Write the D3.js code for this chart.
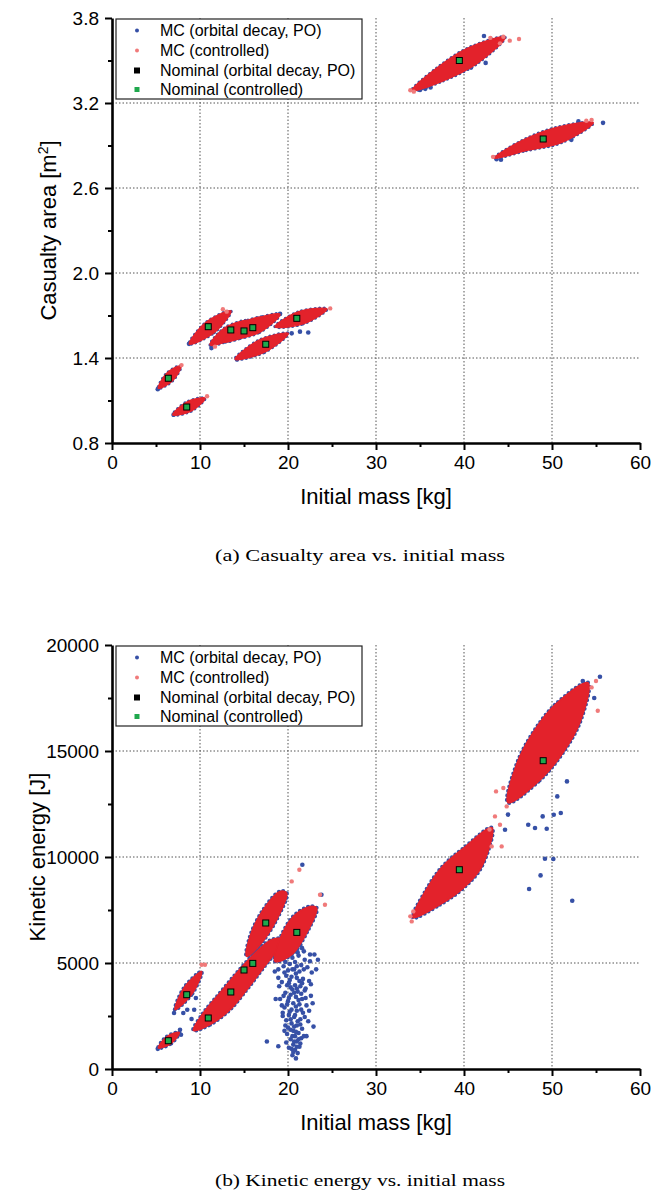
<!DOCTYPE html>
<html><head><meta charset="utf-8">
<script src="https://cdn.jsdelivr.net/npm/d3@7"></script>
<style>
html,body{margin:0;padding:0;background:#fff;}
svg{display:block;}
</style></head>
<body>
<svg id="chart" width="651" height="1194"></svg>
<script>
// ---------- data ----------
const massTicks = [0,10,20,30,40,50,60];
const massMinor = [5,15,25,35,45,55];
const areaTicks = [0.8,1.4,2.0,2.6,3.2,3.8];
const areaMinor = [1.1,1.7,2.3,2.9,3.5];
const energyTicks = [0,5000,10000,15000,20000];
const energyMinor = [2500,7500,12500,17500];
const legendLabels = ["MC (orbital decay, PO)","MC (controlled)","Nominal (orbital decay, PO)","Nominal (controlled)"];

const nominalMass   = [6.4, 8.49, 10.94, 13.5, 15.0, 16.0, 17.47, 21.0, 39.47, 49.0];
const nominalArea   = [1.257, 1.054, 1.621, 1.598, 1.591, 1.614, 1.497, 1.68, 3.50, 2.946];
const nominalEnergy = [1335, 3505, 2406, 3632, 4670, 4981, 6887, 6444, 9401, 14543];

// MC cloud outlines (mass, casualty area)
const areaCloudA = [[5.26,1.186],[6.875,1.239],[7.84,1.345],[6.225,1.292]];
const areaCloudB = [[6.9,0.998],[8.98,1.025],[10.57,1.116],[8.49,1.089]];
const areaCloudC = [[8.78,1.499],[11.62,1.580],[13.52,1.732],[10.68,1.651]];
const areaCloudD = [[11.14,1.492],[13.725,1.539],[15.49,1.663],[12.905,1.616]];
const areaCloudE = [[12.65,1.515],[15.31,1.562],[17.19,1.687],[14.53,1.640]];
const areaCloudF = [[13.78,1.539],[16.78,1.582],[19.09,1.709],[16.09,1.666]];
const areaCloudG = [[13.98,1.391],[17.34,1.441],[20.03,1.574],[16.67,1.524]];
const areaCloudH = [[18.52,1.621],[21.72,1.641],[24.43,1.746],[21.23,1.726]];
const areaCloudI = [[34.06,3.287],[37.64,3.357],[41.45,3.477],[44.66,3.664],[40.43,3.587],[36.84,3.443]];
const areaCloudJ = [[43.41,2.810],[47.07,2.864],[51.05,2.920],[54.69,3.061],[50.43,3.026],[46.52,2.932]];
const areaBlueOut = [[42.27,3.673],[42.46,3.483],[35.0,3.292],[35.6,3.30],[36.2,3.31],[55.8,3.06],[43.7,2.803],[44.2,2.80],[53.0,3.07],[8.75,1.50],[19.1,1.712],[20.42,1.574],[21.36,1.586],[22.3,1.58],[5.2,1.18],[14.2,1.39],[11.3,1.47],[7.0,1.0],[40.8,3.45],[52.2,2.94]];
const areaRedOut = [[46.25,3.652],[44.47,3.668],[44.09,3.621],[45.2,3.64],[33.9,3.29],[34.3,3.28],[53.9,3.075],[54.5,3.08],[43.3,2.82],[13.03,1.727],[12.6,1.745],[11.7,1.48],[24.8,1.75],[10.8,1.13],[7.9,1.35],[43.0,3.66]];

// MC cloud outlines (mass, kinetic energy)
const energyCloudA = [[5.26,991],[6.73,1208],[7.65,1727],[6.18,1509]];
const energyCloudB = [[7.16,2797],[9.14,3566],[10.19,4604],[8.2,3840]];
const energyCloudBand = [[9.24,1821],[11.14,2090],[13.41,2797],[15.31,3741],[17.19,4764],[18.9,5708],[19.28,6132],[18.15,6099],[16.06,5392],[14.17,4528],[12.27,3585],[10.38,2642]];
const energyCloudG = [[15.31,5311],[16.82,5863],[18.7,7043],[19.85,8302],[19.09,8378],[17.19,7514],[15.68,6255]];
const energyCloudH = [[18.52,5076],[20.42,5391],[22.31,6571],[23.26,7594],[22.5,7670],[20.6,7198],[18.9,5943]];
const energyCloudI = [[34.2,7137],[37.26,7750],[39.91,8528],[42.0,9538],[43.18,11382],[39.89,10396],[37.48,9519],[35.65,8411]];
const energyCloudJ = [[45.0,12560],[48.59,13609],[51.25,14920],[53.24,16415],[54.09,18220],[50.40,17198],[47.84,15863],[45.95,14344]];
const energyBlueOut = [
[20.1,5900],[20.6,6000],[21.4,5850],[19.6,5700],[20.3,5600],[21.0,5650],[21.8,5550],[22.5,5400],
[19.2,5400],[19.9,5300],[20.5,5250],[21.2,5350],[21.9,5150],[20.8,5050],[20.2,4950],[21.5,4900],
[22.2,4800],[19.5,4850],[18.9,4700],[20.0,4650],[20.7,4700],[21.3,4600],[22.7,4550],[19.8,4400],
[20.4,4350],[21.0,4300],[21.7,4250],[22.4,4150],[19.3,4100],[20.1,4050],[20.8,3950],[21.4,3900],
[20.5,3750],[21.1,3650],[21.9,3700],[19.7,3600],[20.3,3500],[22.6,3450],[20.9,3400],[21.6,3300],
[19.1,3300],[20.0,3200],[20.6,3100],[21.3,3050],[22.1,3000],[19.6,2900],[20.4,2800],[21.0,2750],
[21.7,2650],[20.1,2550],[20.7,2450],[21.4,2350],[19.8,2300],[22.3,2250],[20.4,2150],[21.0,2050],
[20.0,1950],[21.6,1900],[20.6,1800],[21.2,1700],[19.9,1650],[20.8,1550],[21.5,1450],[20.3,1400],
[21.0,1300],[20.6,1150],[21.3,1050],[20.1,1000],[20.8,900],[21.1,750],[20.5,650],[20.9,500],
[22.9,2000],[23.4,5150],[22.5,5080],[17.6,1300],[18.9,1070],[18.6,3300],[18.5,4600],[23.2,4700],
[19.4,2500],[22.0,3800],[22.8,3100],[19.0,3900],
[19.9,5800],[20.9,5950],[21.6,5700],[20.4,5450],[21.1,5500],[19.7,5050],[21.0,4850],[20.5,4700],
[21.8,4700],[19.6,4550],[20.9,4500],[20.2,4200],[21.3,4150],[19.9,3950],[21.6,4050],[20.3,3850],
[21.0,3800],[20.7,3600],[21.5,3550],[19.5,3450],[20.1,3350],[21.2,3250],[19.9,3050],[20.9,2950],
[21.5,2800],[20.2,2700],[19.4,2650],[20.8,2550],[21.9,2450],[20.3,2350],[21.1,2250],[19.7,2050],
[20.7,2000],[21.4,2100],[20.3,1850],[20.9,1750],[21.8,1550],[19.6,1800],[20.5,1550],[21.2,1400],
[20.7,1300],[19.8,1250],[20.4,950],[21.0,1050],[20.6,800],[21.4,1200],[22.1,1550],[22.4,2750],
[22.0,3350],[18.9,4300],[19.3,3000],[22.6,4000],[23.0,5400],[19.0,5600],
[8.1,2641],[9.04,2358],[8.55,2797],[7.73,1854],[7.84,1618],[9.34,2797],[9.53,3346],[7.05,2641],[5.2,950],
[47.4,8490],[52.3,7939],[48.7,9132],[49.2,9920],[50.15,9906],[48.94,11915],[50.2,11995],[51.0,12075],
[49.4,11335],[47.3,11524],[48.07,11368],[50.6,12859],[51.7,13566],[44.66,11288],[45.0,12000],
[55.45,18500],[54.8,17500],[53.5,18300],[21.63,9637],[23.8,8222],[34.3,7300]];
const energyRedOut = [[21.29,9401],[20.42,8849],[23.64,8222],[24.2,7750],[10.19,4920],[10.57,4920],
[43.64,13094],[44.47,13254],[43.52,11915],[44.85,12387],[44.09,11524],[43.14,10500],[44.28,10500],
[34.06,6963],[33.9,7200],[34.24,7434],[55.0,18300],[55.2,16900],[54.5,18000],[42.9,11300]];

// ---------- drawing ----------
const BLUE = "#3650a6", RED = "#e3222b", PINK = "#f07a7a", GREEN = "#1fa84d";
const SANS = "Liberation Sans, Arial, sans-serif";
const svg = d3.select("#chart");
svg.append("rect").attr("width",651).attr("height",1194).attr("fill","#fff");
const x = d3.scaleLinear().domain([0,60]).range([112,640]);

function drawPanel(cfg){
  const y = cfg.y;
  const g = svg.append("g");
  const [y0,y1] = y.range(); // bottom, top
  // grid
  g.selectAll(".hg").data(cfg.ticks.slice(1,-1)).join("line")
    .attr("x1",x(0)).attr("x2",x(60)).attr("y1",d=>y(d)).attr("y2",d=>y(d))
    .attr("stroke","#555").attr("stroke-width",1).attr("stroke-dasharray","1.5,2");
  g.selectAll(".vg").data(massTicks.slice(1,-1)).join("line")
    .attr("x1",d=>x(d)).attr("x2",d=>x(d)).attr("y1",y1).attr("y2",y0)
    .attr("stroke","#555").attr("stroke-width",1).attr("stroke-dasharray","1.5,2");
  // clouds
  const line = d3.line().x(d=>x(d[0])).y(d=>y(d[1])).curve(d3.curveCatmullRomClosed.alpha(0.5));
  cfg.clouds.forEach(c=>{
    g.append("path").attr("d",line(c)).attr("fill","none").attr("stroke",BLUE)
      .attr("stroke-width",cfg.rim).attr("stroke-dasharray","0 4.5").attr("stroke-linecap","round");
  });
  g.selectAll(".bo").data(cfg.blue).join("circle")
    .attr("cx",d=>x(d[0])).attr("cy",d=>y(d[1])).attr("r",2.3).attr("fill",BLUE);
  cfg.clouds.forEach(c=>{
    g.append("path").attr("d",line(c)).attr("fill",RED).attr("stroke",RED).attr("stroke-width",1.5);
  });
  g.selectAll(".ro").data(cfg.red).join("circle")
    .attr("cx",d=>x(d[0])).attr("cy",d=>y(d[1])).attr("r",2.2).attr("fill",PINK);
  // nominal
  g.selectAll(".nb").data(nominalMass).join("rect")
    .attr("x",(d)=>x(d)-3.5).attr("y",(d,i)=>y(cfg.nominal[i])-3.5).attr("width",7).attr("height",7).attr("fill","#000");
  g.selectAll(".ng").data(nominalMass).join("rect")
    .attr("x",(d)=>x(d)-2.5).attr("y",(d,i)=>y(cfg.nominal[i])-2.5).attr("width",5).attr("height",5).attr("fill",GREEN);
  // axes
  g.append("g").attr("transform",`translate(0,${y0})`)
    .call(d3.axisBottom(x).tickValues(massTicks).tickSize(7).tickSizeOuter(0).tickPadding(6).tickFormat(d3.format("d")));
  g.append("g").attr("transform",`translate(0,${y0})`)
    .call(d3.axisBottom(x).tickValues(massMinor).tickSize(4).tickSizeOuter(0).tickFormat(""))
    .select(".domain").remove();
  g.append("g").attr("transform",`translate(${x(0)},0)`)
    .call(d3.axisLeft(y).tickValues(cfg.ticks).tickSize(7).tickSizeOuter(0).tickPadding(6).tickFormat(cfg.fmt));
  g.append("g").attr("transform",`translate(${x(0)},0)`)
    .call(d3.axisLeft(y).tickValues(cfg.minor).tickSize(4).tickSizeOuter(0).tickFormat(""))
    .select(".domain").remove();
  g.selectAll(".domain").attr("stroke","#000").attr("stroke-width",2.6);
  g.selectAll(".tick line").attr("stroke","#000").attr("stroke-width",2);
  g.selectAll(".tick text").attr("font-size",19).attr("font-family",SANS).attr("fill","#000");
  // titles
  g.append("text").attr("x",376).attr("y",y0+61).attr("text-anchor","middle")
    .attr("font-family",SANS).attr("font-size",22).text("Initial mass [kg]");
  const yt = g.append("text").attr("transform",`translate(${cfg.ytx},${(y0+y1)/2}) rotate(-90)`)
    .attr("text-anchor","middle").attr("font-family",SANS).attr("font-size",22);
  cfg.ytitle(yt);
  // legend
  const lg = g.append("g").attr("transform",`translate(116,${y1+1})`);
  lg.append("rect").attr("width",246).attr("height",80).attr("fill","#fff").attr("stroke","#222").attr("stroke-width",1.2);
  const rows = [11.5,31.5,51.5,70.5];
  legendLabels.forEach((t,i)=>{
    const cy = rows[i];
    if(i===0) lg.append("circle").attr("cx",21).attr("cy",cy).attr("r",2).attr("fill",BLUE);
    if(i===1) lg.append("circle").attr("cx",21).attr("cy",cy).attr("r",2).attr("fill",PINK);
    if(i===2) lg.append("rect").attr("x",18).attr("y",cy-3).attr("width",6).attr("height",6).attr("fill","#000");
    if(i===3) lg.append("rect").attr("x",18.5).attr("y",cy-2.5).attr("width",5).attr("height",5).attr("fill",GREEN);
    lg.append("text").attr("x",44).attr("y",cy+5.7).attr("font-family",SANS).attr("font-size",16).text(t);
  });
  // caption
  svg.append("text").attr("x",360).attr("y",cfg.capY).attr("text-anchor","middle")
    .attr("font-family","Liberation Serif, Times New Roman, serif").attr("font-size",17)
    .attr("textLength",290).attr("lengthAdjust","spacingAndGlyphs").text(cfg.caption);
}

drawPanel({
  y: d3.scaleLinear().domain([0.8,3.8]).range([443,18]),
  ticks: areaTicks, minor: areaMinor, fmt: d3.format(".1f"),
  clouds: [areaCloudA,areaCloudB,areaCloudC,areaCloudD,areaCloudE,areaCloudF,areaCloudG,areaCloudH,areaCloudI,areaCloudJ],
  blue: areaBlueOut, red: areaRedOut, nominal: nominalArea, rim: 3.4, ytx: 56,
  ytitle: t=>{ t.append("tspan").text("Casualty area [m"); t.append("tspan").attr("dy",-8).attr("font-size",14).text("2"); t.append("tspan").attr("dy",8).text("]"); },
  caption: "(a) Casualty area vs. initial mass", capY: 561
});
drawPanel({
  y: d3.scaleLinear().domain([0,20000]).range([1069,645]),
  ticks: energyTicks, minor: energyMinor, fmt: d3.format("d"),
  clouds: [energyCloudA,energyCloudB,energyCloudBand,energyCloudG,energyCloudH,energyCloudI,energyCloudJ],
  blue: energyBlueOut, red: energyRedOut, nominal: nominalEnergy, rim: 4.2, ytx: 45,
  ytitle: t=>{ t.text("Kinetic energy [J]"); },
  caption: "(b) Kinetic energy vs. initial mass", capY: 1186
});
</script>
</body></html>
